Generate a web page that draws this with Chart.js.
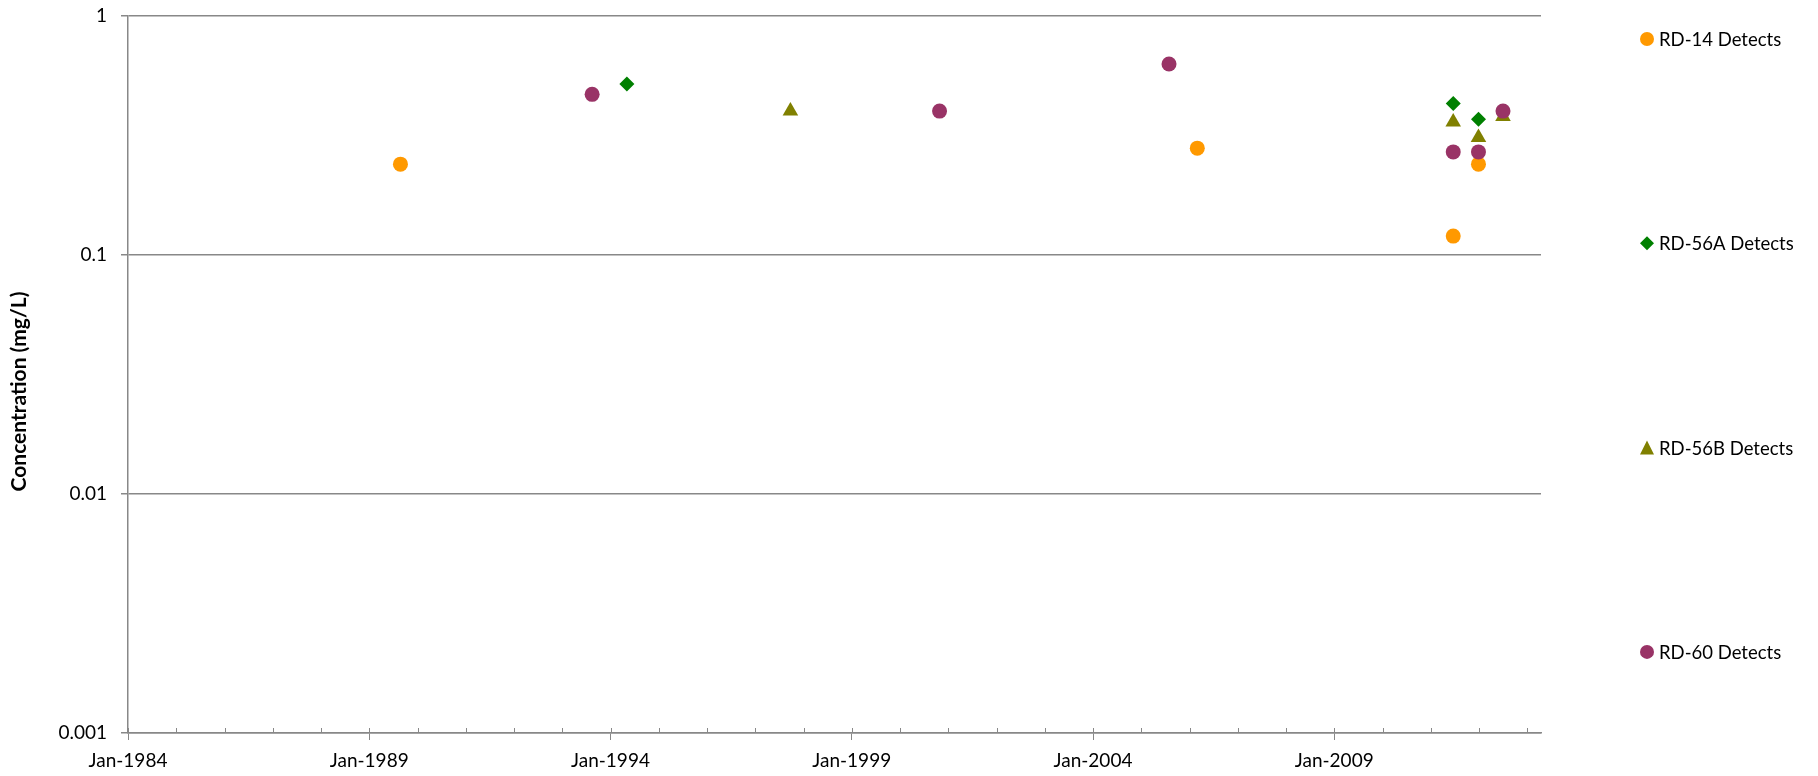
<!DOCTYPE html>
<html>
<head>
<meta charset="utf-8">
<title>Concentration (mg/L)</title>
<script src="https://cdn.jsdelivr.net/npm/chart.js@4.4.1/dist/chart.umd.min.js"></script>
<style>
  html, body { margin: 0; padding: 0; background: #fff; }
  #wrap { width: 1818px; height: 776px; position: relative; }
</style>
</head>
<body>
<div id="wrap"><canvas id="concChart"></canvas></div>
<script>
const seriesNames = ["RD-14 Detects", "RD-56A Detects", "RD-56B Detects", "RD-60 Detects"];
const yTitle = "Concentration (mg/L)";

const rd14Dates = ["1989-08-25", "2006-03-01", "2011-06-20", "2011-12-28"];
const rd14Values = [0.24, 0.28, 0.12, 0.24];

const rd56aDates = ["1994-05-05", "2011-06-20", "2011-12-28"];
const rd56aValues = [0.52, 0.43, 0.37];

const rd56bDates = ["1997-09-24", "2011-06-20", "2011-12-28", "2012-07-01"];
const rd56bValues = [0.40, 0.36, 0.31, 0.38];

const rd60Dates = ["1993-08-15", "2000-10-27", "2005-07-30", "2011-06-20", "2011-12-28", "2012-07-01"];
const rd60Values = [0.47, 0.40, 0.63, 0.27, 0.27, 0.40];

const xRange = ["1984-01-01", "2013-04-15"];
const xLabelYears = [1984, 1989, 1994, 1999, 2004, 2009];
const yTicks = [0.001, 0.01, 0.1, 1];
const yTickLabels = ["0.001", "0.01", "0.1", "1"];

const gridGray = "#888888";

// date string -> decimal year, so a linear scale can place it
function toYear(s) {
  const d = new Date(s + "T00:00:00Z");
  const y = d.getUTCFullYear();
  const start = Date.UTC(y, 0, 1);
  const end = Date.UTC(y + 1, 0, 1);
  return y + (d - start) / (end - start);
}

function points(dates, values) {
  return dates.map((d, i) => ({ x: toYear(d), y: values[i] }));
}

function drawMarker(ctx, style, x, y, r) {
  ctx.beginPath();
  if (style === "circle") {
    ctx.arc(x, y, r, 0, Math.PI * 2);
  } else if (style === "rectRot") {
    ctx.moveTo(x, y - r);
    ctx.lineTo(x + r, y);
    ctx.lineTo(x, y + r);
    ctx.lineTo(x - r, y);
  } else {
    ctx.moveTo(x, y - r);
    ctx.lineTo(x + r, y + r);
    ctx.lineTo(x - r, y + r);
  }
  ctx.closePath();
  ctx.fill();
}

// legend spread down the right side, like the original
const sideLegend = {
  id: "sideLegend",
  afterDraw(chart, args, opts) {
    const ctx = chart.ctx;
    const x = chart.chartArea.right + opts.offsetX;
    ctx.save();
    ctx.font = opts.font;
    ctx.textBaseline = "middle";
    chart.data.datasets.forEach((ds, i) => {
      const y = chart.chartArea.top + opts.offsetY + i * opts.gap;
      ctx.fillStyle = ds.backgroundColor;
      drawMarker(ctx, ds.pointStyle, x, y, opts.markerSize);
      ctx.fillStyle = "#000";
      ctx.fillText(ds.label, x + opts.textGap, y + 1);
    });
    ctx.restore();
  },
};

// y title sits a little below the plot's middle in the original
const sideTitle = {
  id: "sideTitle",
  afterDraw(chart, args, opts) {
    const ctx = chart.ctx;
    const area = chart.chartArea;
    ctx.save();
    ctx.translate(opts.x, (area.top + area.bottom) / 2 + opts.shiftY);
    ctx.rotate(-Math.PI / 2);
    ctx.font = opts.font;
    ctx.fillStyle = "#000";
    ctx.textAlign = "center";
    ctx.textBaseline = "middle";
    ctx.fillText(opts.text, 0, 0);
    ctx.restore();
  },
};

// small tick marks pointing into the plot on the date axis
const innerTicks = {
  id: "innerTicks",
  beforeDatasetsDraw(chart, args, opts) {
    const xs = chart.scales.x;
    const ctx = chart.ctx;
    const bottom = chart.chartArea.bottom;
    ctx.save();
    ctx.strokeStyle = opts.color;
    ctx.lineWidth = opts.width;
    ctx.beginPath();
    xs.ticks.forEach((t) => {
      const px = Math.round(xs.getPixelForValue(t.value)) + 0.5;
      ctx.moveTo(px, bottom - opts.length);
      ctx.lineTo(px, bottom);
    });
    ctx.stroke();
    ctx.restore();
  },
};

Chart.defaults.font.family = "Lato";
Chart.defaults.font.size = 19;
Chart.defaults.color = "#000";

const concChart = document.getElementById("concChart");

new Chart(concChart, {
  type: "scatter",
  data: {
    datasets: [
      {
        label: seriesNames[0],
        data: points(rd14Dates, rd14Values),
        pointStyle: "circle",
        pointRadius: 7.5,
        backgroundColor: "#FF9900",
        order: 3,
      },
      {
        label: seriesNames[1],
        data: points(rd56aDates, rd56aValues),
        pointStyle: "rectRot",
        pointRadius: 7.5,
        backgroundColor: "#008000",
        order: 2,
      },
      {
        label: seriesNames[2],
        data: points(rd56bDates, rd56bValues),
        pointStyle: "triangle",
        pointRadius: 9,
        backgroundColor: "#808000",
        order: 1,
      },
      {
        label: seriesNames[3],
        data: points(rd60Dates, rd60Values),
        pointStyle: "circle",
        pointRadius: 7.5,
        backgroundColor: "#993366",
        order: 0,
      },
    ],
  },
  options: {
    responsive: true,
    maintainAspectRatio: false,
    animation: false,
    elements: {
      point: { borderWidth: 0, hoverRadius: 8 },
    },
    layout: {
      padding: { left: 0, top: 16, right: 277, bottom: 0 },
    },
    scales: {
      x: {
        type: "linear",
        min: toYear(xRange[0]),
        max: toYear(xRange[1]),
        afterFit(scale) {
          scale.height = 43;
        },
        border: { color: gridGray, width: 1.5 },
        grid: {
          drawOnChartArea: false,
          drawTicks: true,
          tickLength: 7,
          tickWidth: 1,
          tickColor: (c) =>
            c.tick && xLabelYears.includes(Math.round(c.tick.value)) ? gridGray : "rgba(0,0,0,0)",
        },
        ticks: {
          stepSize: 1,
          autoSkip: false,
          includeBounds: false,
          maxRotation: 0,
          padding: 9,
          callback: (v) => (xLabelYears.includes(Math.round(v)) ? "Jan-" + Math.round(v) : ""),
        },
      },
      y: {
        type: "logarithmic",
        min: 0.001,
        max: 1,
        afterBuildTicks(scale) {
          scale.ticks = yTicks.map((v) => ({ value: v }));
        },
        afterFit(scale) {
          scale.width = 128;
          // the top label only needs room for half its height
          scale.paddingTop = 0;
          scale.paddingBottom = 0;
        },
        border: { color: gridGray, width: 1.5 },
        grid: {
          color: gridGray,
          lineWidth: 1.5,
          tickLength: 7,
        },
        ticks: {
          padding: 14,
          callback: (v) => yTickLabels[yTicks.indexOf(v)],
        },
      },
    },
    plugins: {
      legend: { display: false },
      tooltip: { enabled: true },
      sideLegend: {
        font: "18.5px Lato",
        offsetX: 106,
        offsetY: 23,
        gap: 204.3,
        markerSize: 7,
        textGap: 12,
      },
      sideTitle: {
        text: yTitle,
        font: "bold 21px Lato",
        x: 19,
        shiftY: 17,
      },
      innerTicks: { color: gridGray, width: 1, length: 5 },
    },
  },
  plugins: [innerTicks, sideLegend, sideTitle],
});
</script>
</body>
</html>
